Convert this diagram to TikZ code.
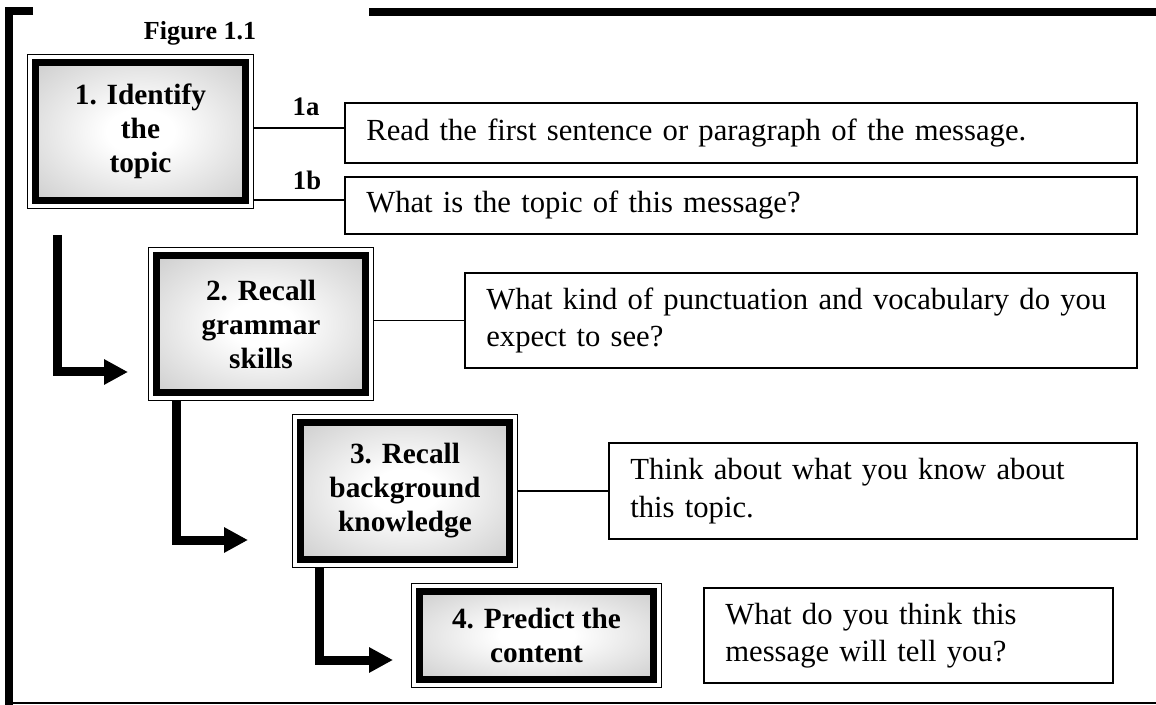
\documentclass[tikz,border=0pt]{standalone}
\usepackage{fontspec}
\setmainfont{Liberation Serif}
\usetikzlibrary{arrows.meta}
\pgfdeclareradialshading{boxshade}{\pgfpoint{0bp}{0bp}}{color(0bp)=(white); color(8bp)=(white); color(45bp)=(gray!52); color(50bp)=(gray!52)}

\begin{document}
\begin{tikzpicture}[x=0.75pt, y=-0.75pt,
  stepbox/.style={draw, line width=5.6pt, shading=boxshade, outer sep=6.4pt, inner sep=0pt,
    align=center, font=\fontsize{22}{25.5}\selectfont\bfseries},
  txtbox/.style={draw, line width=1.5pt, inner xsep=16pt, inner ysep=0pt, align=left,
    font=\fontsize{23}{28}\selectfont},
  lbl/.style={font=\fontsize{20}{24}\selectfont\bfseries},
  link/.style={line width=1.1pt},
  flow/.style={line width=6.75pt, -{Triangle[length=18pt,width=18pt]}},
  frame/.style={line width=6pt}]
  \useasboundingbox (0,0) rectangle (1156,705);

  % Marco
  \draw[frame] (33,11.5) -| (9,705);
  \draw[frame] (369,12) -- (1156,12);
  \draw[line width=1.5pt] (9,703) -- (1156,703);
  \node[font=\fontsize{19.5}{23}\selectfont\bfseries] (fig) at (200,33) {Figure 1.1};

  % Pasos
  \node[stepbox, minimum width=157.5pt, minimum height=103.5pt] (b1) at (140.5,131.5) {1. Identify\\the\\topic};
  \node[stepbox, minimum width=156.75pt, minimum height=102.75pt] (b2) at (261,324) {2. Recall\\grammar\\skills};
  \node[stepbox, minimum width=156.75pt, minimum height=102.75pt] (b3) at (405,491) {3. Recall\\background\\knowledge};
  \node[stepbox, minimum width=175.5pt, minimum height=66pt] (b4) at (536.5,635.5) {4. Predict the\\content};
  \foreach \b in {b1,b2,b3,b4}
    \draw[line width=1.1pt] ([shift={(0.55pt,-0.55pt)}]\b.north west) rectangle ([shift={(-0.55pt,0.55pt)}]\b.south east);

  % Preguntas
  \node[txtbox, text width=562pt, minimum height=45pt] (t1a) at (741,133) {Read the first sentence or paragraph of the message.};
  \node[txtbox, text width=562pt, minimum height=42.75pt] (t1b) at (741,205.5) {What is the topic of this message?};
  \node[txtbox, text width=472pt, minimum height=71.25pt] (t2) at (801,320.5) {What kind of punctuation and vocabulary do you\\expect to see?};
  \node[txtbox, text width=364pt, minimum height=72pt] (t3) at (873,491) {Think about what you know about\\this topic.};
  \node[txtbox, text width=274.75pt, minimum height=71.25pt] (t4) at (908.5,635.5) {What do you think this\\message will tell you?};
  \node[lbl] (l1a) at (306,107) {1a};
  \node[lbl] (l1b) at (307,180) {1b};

  % Lineas
  \draw[link] ([yshift=2.6pt]b1.east) -- ([yshift=2.6pt]b1.east -| t1a.west);
  \draw[link] ([yshift=6.75pt]b1.south east) -- ([yshift=6.75pt]b1.south east -| t1b.west);
  \draw[link] (b2.east |- t2.west) -- (t2.west);
  \draw[link] (b3.east) -- (t3.west);

  % Flechas
  \coordinate (s1) at (57,235);
  \coordinate (e1) at (128,372);
  \coordinate (e2) at (248,540);
  \coordinate (e3) at (393,660);
  \draw[flow] (s1) |- (e1);
  \draw[flow] ([xshift=21.75pt]b2.south west) |- (e2);
  \draw[flow] ([xshift=21pt]b3.south west) |- (e3);
\end{tikzpicture}
\end{document}
